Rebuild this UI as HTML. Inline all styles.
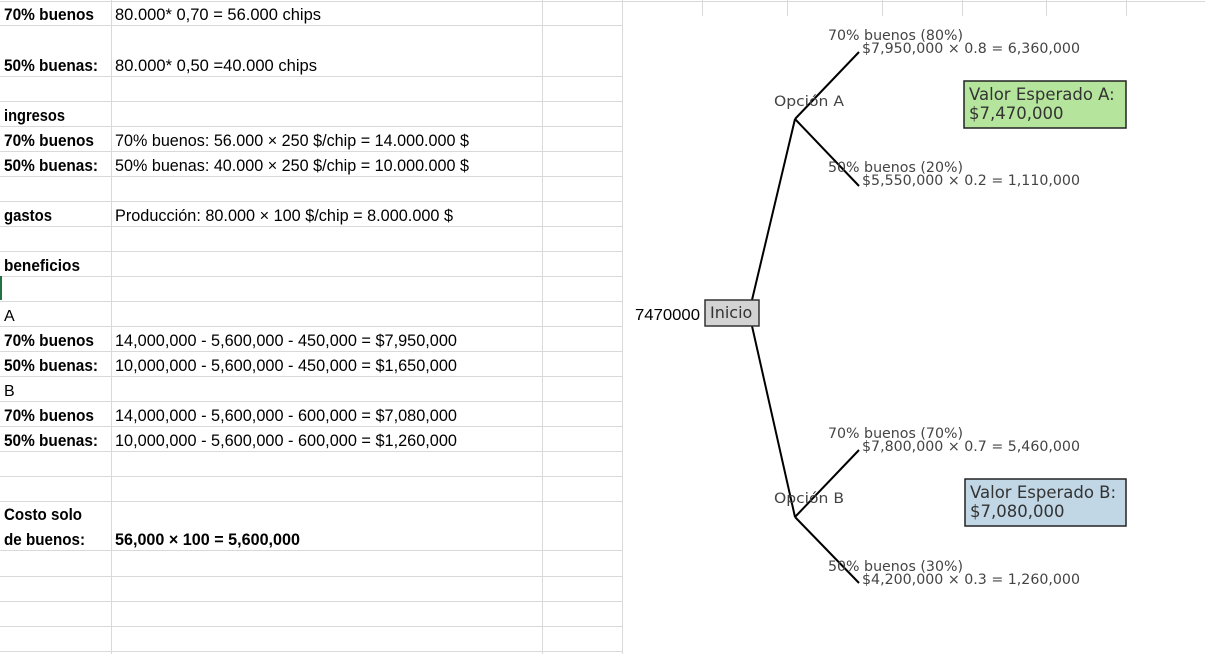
<!DOCTYPE html>
<html><head><meta charset="utf-8"><style>
html,body{margin:0;padding:0;background:#fff;}
svg{display:block;}
.b{font-family:"Liberation Sans",sans-serif;font-weight:bold;font-size:17px;fill:#000;}
.n{font-family:"Liberation Sans",sans-serif;font-size:17px;fill:#000;}
.t{font-family:"DejaVu Sans",sans-serif;font-size:14px;fill:#444;}
</style></head><body>
<svg width="1205" height="654" viewBox="0 0 1205 654" xmlns="http://www.w3.org/2000/svg">
<rect width="1205" height="654" fill="#fff"/>
<g stroke="#d9d9d9" stroke-width="1">
<line x1="0" y1="1.5" x2="1205" y2="1.5"/>
<line x1="111.5" y1="0" x2="111.5" y2="654"/>
<line x1="542.5" y1="0" x2="542.5" y2="654"/>
<line x1="622.5" y1="0" x2="622.5" y2="654"/>
<line x1="702.5" y1="0" x2="702.5" y2="16"/>
<line x1="787.5" y1="0" x2="787.5" y2="16"/>
<line x1="882.5" y1="0" x2="882.5" y2="16"/>
<line x1="962.5" y1="0" x2="962.5" y2="16"/>
<line x1="1046.5" y1="0" x2="1046.5" y2="16"/>
<line x1="1126.5" y1="0" x2="1126.5" y2="16"/>
<line x1="0" y1="25.5" x2="622" y2="25.5"/>
<line x1="0" y1="76.5" x2="622" y2="76.5"/>
<line x1="0" y1="101.5" x2="622" y2="101.5"/>
<line x1="0" y1="126.5" x2="622" y2="126.5"/>
<line x1="0" y1="151.5" x2="622" y2="151.5"/>
<line x1="0" y1="176.5" x2="622" y2="176.5"/>
<line x1="0" y1="201.5" x2="622" y2="201.5"/>
<line x1="0" y1="226.5" x2="622" y2="226.5"/>
<line x1="0" y1="251.5" x2="622" y2="251.5"/>
<line x1="0" y1="276.5" x2="622" y2="276.5"/>
<line x1="0" y1="301.5" x2="622" y2="301.5"/>
<line x1="0" y1="326.5" x2="622" y2="326.5"/>
<line x1="0" y1="351.5" x2="622" y2="351.5"/>
<line x1="0" y1="376.5" x2="622" y2="376.5"/>
<line x1="0" y1="401.5" x2="622" y2="401.5"/>
<line x1="0" y1="426.5" x2="622" y2="426.5"/>
<line x1="0" y1="451.5" x2="622" y2="451.5"/>
<line x1="0" y1="476.5" x2="622" y2="476.5"/>
<line x1="0" y1="501.5" x2="622" y2="501.5"/>
<line x1="0" y1="550.5" x2="622" y2="550.5"/>
<line x1="0" y1="576.5" x2="622" y2="576.5"/>
<line x1="0" y1="601.5" x2="622" y2="601.5"/>
<line x1="0" y1="626.5" x2="622" y2="626.5"/>
<line x1="0" y1="651.5" x2="622" y2="651.5"/>
</g>
<rect x="0" y="276" width="2" height="24" fill="#217346"/>
<rect x="623" y="16" width="582" height="638" fill="#fff"/>

<text class="b" x="4" y="20" textLength="90" lengthAdjust="spacingAndGlyphs">70% buenos</text>
<text class="n" x="115" y="20" textLength="206" lengthAdjust="spacingAndGlyphs">80.000* 0,70 = 56.000 chips</text>
<text class="b" x="4" y="71" textLength="94" lengthAdjust="spacingAndGlyphs">50% buenas:</text>
<text class="n" x="115" y="71" textLength="202" lengthAdjust="spacingAndGlyphs">80.000* 0,50 =40.000 chips</text>
<text class="b" x="4" y="121" textLength="61" lengthAdjust="spacingAndGlyphs">ingresos</text>
<text class="b" x="4" y="146" textLength="90" lengthAdjust="spacingAndGlyphs">70% buenos</text>
<text class="n" x="115" y="146" textLength="354" lengthAdjust="spacingAndGlyphs">70% buenos: 56.000 × 250 $/chip = 14.000.000 $</text>
<text class="b" x="4" y="171" textLength="94" lengthAdjust="spacingAndGlyphs">50% buenas:</text>
<text class="n" x="115" y="171" textLength="354" lengthAdjust="spacingAndGlyphs">50% buenas: 40.000 × 250 $/chip = 10.000.000 $</text>
<text class="b" x="4" y="221" textLength="48" lengthAdjust="spacingAndGlyphs">gastos</text>
<text class="n" x="115" y="221" textLength="338" lengthAdjust="spacingAndGlyphs">Producción: 80.000 × 100 $/chip = 8.000.000 $</text>
<text class="b" x="4" y="271" textLength="76" lengthAdjust="spacingAndGlyphs">beneficios</text>
<text class="n" x="4" y="321" style="font-size:16px">A</text>
<text class="b" x="4" y="346" textLength="90" lengthAdjust="spacingAndGlyphs">70% buenos</text>
<text class="n" x="115" y="346" textLength="342" lengthAdjust="spacingAndGlyphs">14,000,000 - 5,600,000 - 450,000 = $7,950,000</text>
<text class="b" x="4" y="371" textLength="94" lengthAdjust="spacingAndGlyphs">50% buenas:</text>
<text class="n" x="115" y="371" textLength="342" lengthAdjust="spacingAndGlyphs">10,000,000 - 5,600,000 - 450,000 = $1,650,000</text>
<text class="n" x="4" y="396" style="font-size:16px">B</text>
<text class="b" x="4" y="421" textLength="90" lengthAdjust="spacingAndGlyphs">70% buenos</text>
<text class="n" x="115" y="421" textLength="342" lengthAdjust="spacingAndGlyphs">14,000,000 - 5,600,000 - 600,000 = $7,080,000</text>
<text class="b" x="4" y="446" textLength="94" lengthAdjust="spacingAndGlyphs">50% buenas:</text>
<text class="n" x="115" y="446" textLength="342" lengthAdjust="spacingAndGlyphs">10,000,000 - 5,600,000 - 600,000 = $1,260,000</text>
<text class="b" x="4" y="520" textLength="78" lengthAdjust="spacingAndGlyphs">Costo solo</text>
<text class="b" x="4" y="545" textLength="81" lengthAdjust="spacingAndGlyphs">de buenos:</text>
<text class="b" x="115" y="545" textLength="185" lengthAdjust="spacingAndGlyphs">56,000 × 100 = 5,600,000</text>

<g stroke="#000" stroke-width="2" fill="none">
<line x1="752" y1="300" x2="795" y2="119"/>
<line x1="795" y1="119" x2="859" y2="52"/>
<line x1="795" y1="119" x2="859" y2="186"/>
<line x1="752" y1="326" x2="795" y2="517"/>
<line x1="795" y1="517" x2="859" y2="450"/>
<line x1="795" y1="517" x2="859" y2="583"/>
</g>

<text class="t" x="828" y="40" textLength="135" lengthAdjust="spacingAndGlyphs">70% buenos (80%)</text>
<text class="t" x="862" y="53" textLength="218" lengthAdjust="spacingAndGlyphs">$7,950,000 × 0.8 = 6,360,000</text>
<text class="t" x="774" y="106" textLength="70" lengthAdjust="spacingAndGlyphs">Opción A</text>
<text class="t" x="828" y="172" textLength="135" lengthAdjust="spacingAndGlyphs">50% buenos (20%)</text>
<text class="t" x="862" y="185" textLength="218" lengthAdjust="spacingAndGlyphs">$5,550,000 × 0.2 = 1,110,000</text>
<rect x="964" y="81" width="162" height="47" fill="#b5e59c" stroke="#222" stroke-width="1.5"/>
<text class="t" x="969" y="100" style="font-size:16.5px;fill:#333">Valor Esperado A:</text>
<text class="t" x="969" y="119" style="font-size:16.5px;fill:#333">$7,470,000</text>

<text class="t" x="828" y="438" textLength="135" lengthAdjust="spacingAndGlyphs">70% buenos (70%)</text>
<text class="t" x="862" y="451" textLength="218" lengthAdjust="spacingAndGlyphs">$7,800,000 × 0.7 = 5,460,000</text>
<text class="t" x="774" y="503" textLength="70" lengthAdjust="spacingAndGlyphs">Opción B</text>
<text class="t" x="828" y="571" textLength="135" lengthAdjust="spacingAndGlyphs">50% buenos (30%)</text>
<text class="t" x="862" y="584" textLength="218" lengthAdjust="spacingAndGlyphs">$4,200,000 × 0.3 = 1,260,000</text>
<rect x="965" y="479" width="161" height="47" fill="#c2d7e6" stroke="#222" stroke-width="1.5"/>
<text class="t" x="970" y="498" style="font-size:16.5px;fill:#333">Valor Esperado B:</text>
<text class="t" x="970" y="517" style="font-size:16.5px;fill:#333">$7,080,000</text>

<rect x="705" y="300" width="54" height="26" fill="#d3d3d3" stroke="#333" stroke-width="1.5"/>
<text class="t" x="710" y="318" style="font-size:16px;fill:#333">Inicio</text>
<text class="n" x="635" y="320" style="font-size:16px" textLength="65" lengthAdjust="spacingAndGlyphs">7470000</text>
</svg>
</body></html>
